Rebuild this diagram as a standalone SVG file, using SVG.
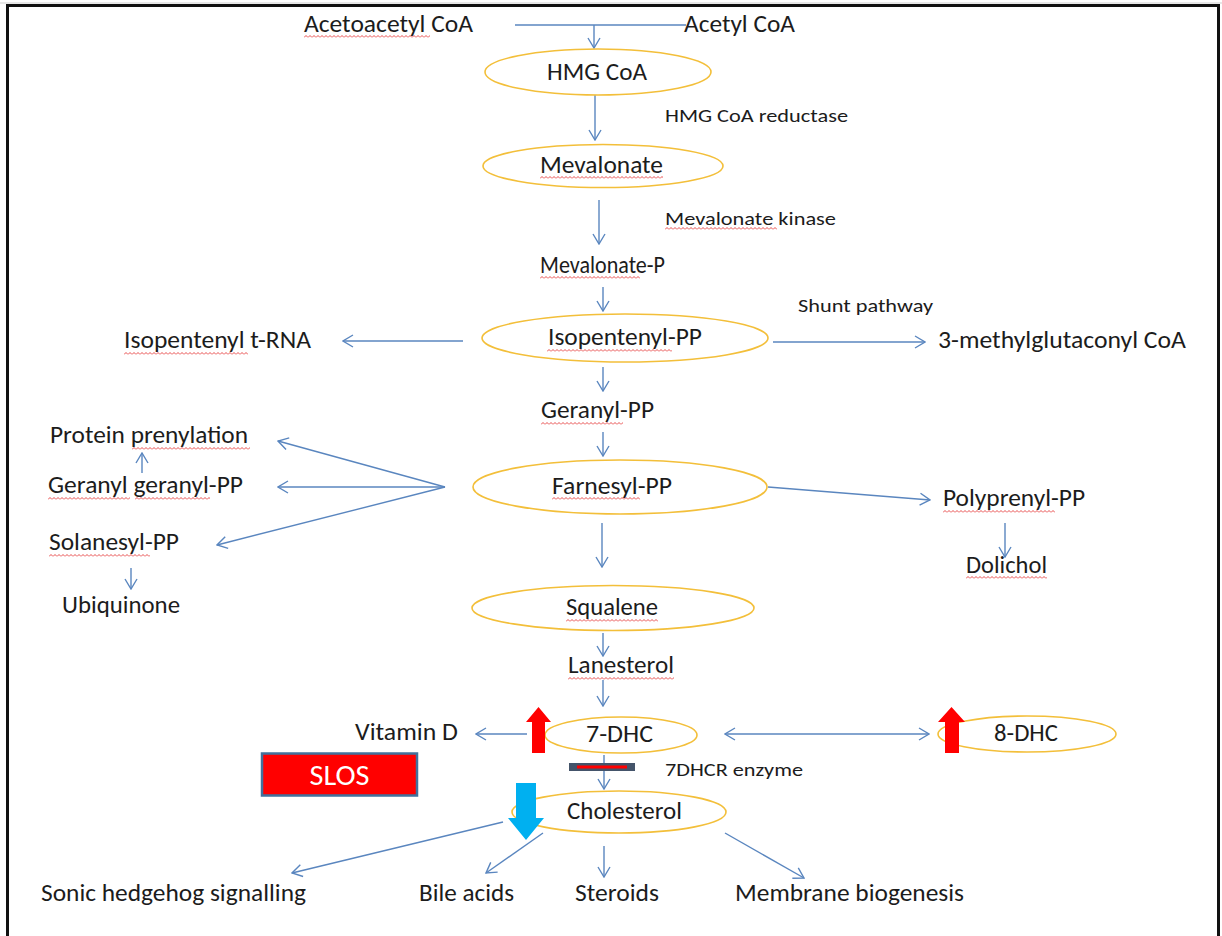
<svg xmlns="http://www.w3.org/2000/svg" width="1222" height="936" viewBox="0 0 1222 936">
<style>
text{font-family:Carlito,"Liberation Sans",Arial,sans-serif;fill:#1c1c1c}
.m{font-size:24px}
.s{font-size:18px}
.el{fill:none;stroke:#f3bf3a;stroke-width:1.6}
.c{fill:none;stroke:#5a86bf;stroke-width:1.4;marker-end:url(#ah)}
.d{fill:none;stroke:#5a86bf;stroke-width:1.4;marker-end:url(#ah);marker-start:url(#ah)}
.sq{fill:url(#wave)}
</style>
<defs>
<marker id="ah" markerUnits="userSpaceOnUse" viewBox="0 0 12 14" markerWidth="12" markerHeight="14" refX="11" refY="7" orient="auto-start-reverse">
<path d="M1,1 L11,7 L1,13" fill="none" stroke="#5a86bf" stroke-width="1.4"/>
</marker>
<pattern id="wave" patternUnits="userSpaceOnUse" width="4" height="3">
<path d="M0,2.5 L2,0.5 L4,2.5" fill="none" stroke="#e53a3a" stroke-width="0.9"/>
</pattern>
</defs>
<rect width="1222" height="936" fill="#ffffff"/>
<g id="frame">
<line x1="0" y1="3" x2="1222" y2="3" stroke="#cfcfcf" stroke-width="1"/>
<line x1="6" y1="5.5" x2="1220" y2="5.5" stroke="#111" stroke-width="3"/>
<line x1="7.5" y1="4" x2="7.5" y2="936" stroke="#111" stroke-width="3"/>
<line x1="1218.5" y1="4" x2="1218.5" y2="936" stroke="#111" stroke-width="3"/>
</g>
<g id="connectors">
<line x1="515" y1="25" x2="686" y2="25" stroke="#5a86bf" stroke-width="1.4"/>
<line class="c" x1="594" y1="25" x2="594" y2="48"/>
<line class="c" x1="595" y1="95" x2="595" y2="140"/>
<line class="c" x1="599" y1="200" x2="599" y2="244"/>
<line class="c" x1="603" y1="287" x2="603" y2="311"/>
<line class="c" x1="463" y1="341" x2="343" y2="341"/>
<line class="c" x1="773" y1="342" x2="925" y2="342"/>
<line class="c" x1="603" y1="367" x2="603" y2="391"/>
<line class="c" x1="603" y1="432" x2="603" y2="456"/>
<line class="c" x1="445" y1="487" x2="278" y2="441"/>
<line class="c" x1="445" y1="487" x2="278" y2="487"/>
<line class="c" x1="445" y1="487" x2="217" y2="545"/>
<line class="c" x1="142" y1="473" x2="142" y2="453"/>
<line class="c" x1="131" y1="568" x2="131" y2="589"/>
<line class="c" x1="768" y1="487" x2="930" y2="500"/>
<line class="c" x1="1005" y1="523" x2="1005" y2="557"/>
<line class="c" x1="602" y1="523" x2="602" y2="567"/>
<line class="c" x1="603" y1="633" x2="603" y2="656"/>
<line class="c" x1="603" y1="680" x2="603" y2="706"/>
<line class="c" x1="527" y1="734" x2="476" y2="734"/>
<line class="d" x1="725" y1="734" x2="929" y2="734"/>
<line class="c" x1="604" y1="755" x2="604" y2="789"/>
<line class="c" x1="503" y1="822" x2="292" y2="873"/>
<line class="c" x1="543" y1="833" x2="486" y2="873"/>
<line class="c" x1="604" y1="846" x2="604" y2="877"/>
<line class="c" x1="725" y1="833" x2="804" y2="878"/>
</g>
<g id="acetoacetyl">
<text class="m" x="304" y="32" textLength="169" lengthAdjust="spacingAndGlyphs">Acetoacetyl CoA</text>
<rect class="sq" x="0" y="0" width="126" height="3" transform="translate(304,35)"/>
</g>
<g id="acetyl">
<text class="m" x="684" y="32" textLength="111" lengthAdjust="spacingAndGlyphs">Acetyl CoA</text>
</g>
<g id="hmgcoa">
<ellipse class="el" cx="598" cy="72" rx="113" ry="23"/>
<text class="m" x="547" y="80" textLength="100" lengthAdjust="spacingAndGlyphs">HMG CoA</text>
</g>
<g id="hmgred">
<text class="s" x="665" y="122" textLength="183" lengthAdjust="spacingAndGlyphs">HMG  CoA reductase</text>
</g>
<g id="mevalonate">
<ellipse class="el" cx="603" cy="166" rx="120" ry="21.5"/>
<text class="m" x="540" y="173" textLength="123" lengthAdjust="spacingAndGlyphs">Mevalonate</text>
<rect class="sq" x="0" y="0" width="123" height="3" transform="translate(540,176)"/>
</g>
<g id="mevkinase">
<text class="s" x="665" y="225" textLength="171" lengthAdjust="spacingAndGlyphs">Mevalonate kinase</text>
<rect class="sq" x="0" y="0" width="112" height="3" transform="translate(665,227)"/>
</g>
<g id="mevp">
<text class="m" x="540" y="273" textLength="125" lengthAdjust="spacingAndGlyphs">Mevalonate-P</text>
<rect class="sq" x="0" y="0" width="100" height="3" transform="translate(540,276)"/>
</g>
<g id="shunt">
<text class="s" x="798" y="312" textLength="135" lengthAdjust="spacingAndGlyphs">Shunt pathway</text>
</g>
<g id="ipp">
<ellipse class="el" cx="625" cy="338" rx="143" ry="24"/>
<text class="m" x="548" y="345" textLength="154" lengthAdjust="spacingAndGlyphs">Isopentenyl-PP</text>
<rect class="sq" x="0" y="0" width="125" height="3" transform="translate(547,349)"/>
</g>
<g id="trna">
<text class="m" x="124" y="348" textLength="187" lengthAdjust="spacingAndGlyphs">Isopentenyl t-RNA</text>
<rect class="sq" x="0" y="0" width="124" height="3" transform="translate(124,352)"/>
</g>
<g id="methylglut">
<text class="m" x="938" y="348" textLength="248" lengthAdjust="spacingAndGlyphs">3-methylglutaconyl CoA</text>
</g>
<g id="geranylpp">
<text class="m" x="541" y="418" textLength="113" lengthAdjust="spacingAndGlyphs">Geranyl-PP</text>
<rect class="sq" x="0" y="0" width="82" height="3" transform="translate(541,422)"/>
</g>
<g id="farnesyl">
<ellipse class="el" cx="620" cy="487" rx="147" ry="27"/>
<text class="m" x="552" y="494" textLength="120" lengthAdjust="spacingAndGlyphs">Farnesyl-PP</text>
<rect class="sq" x="0" y="0" width="88" height="3" transform="translate(552,497)"/>
</g>
<g id="prenylation">
<text class="m" x="50" y="443" textLength="198" lengthAdjust="spacingAndGlyphs">Protein prenylation</text>
<rect class="sq" x="0" y="0" width="118" height="3" transform="translate(132,447)"/>
</g>
<g id="ggpp">
<text class="m" x="48" y="493" textLength="195" lengthAdjust="spacingAndGlyphs">Geranyl geranyl-PP</text>
<rect class="sq" x="0" y="0" width="82" height="3" transform="translate(48,497)"/>
<rect class="sq" x="0" y="0" width="75" height="3" transform="translate(135,497)"/>
</g>
<g id="solanesyl">
<text class="m" x="49" y="550" textLength="130" lengthAdjust="spacingAndGlyphs">Solanesyl-PP</text>
<rect class="sq" x="0" y="0" width="101" height="3" transform="translate(49,554)"/>
</g>
<g id="ubiquinone">
<text class="m" x="62" y="613" textLength="118" lengthAdjust="spacingAndGlyphs">Ubiquinone</text>
</g>
<g id="polyprenyl">
<text class="m" x="943" y="506" textLength="142" lengthAdjust="spacingAndGlyphs">Polyprenyl-PP</text>
<rect class="sq" x="0" y="0" width="112" height="3" transform="translate(943,510)"/>
</g>
<g id="dolichol">
<text class="m" x="966" y="573" textLength="81" lengthAdjust="spacingAndGlyphs">Dolichol</text>
<rect class="sq" x="0" y="0" width="81" height="3" transform="translate(966,576)"/>
</g>
<g id="squalene">
<ellipse class="el" cx="613" cy="608" rx="141" ry="22.5"/>
<text class="m" x="566" y="615" textLength="92" lengthAdjust="spacingAndGlyphs">Squalene</text>
<rect class="sq" x="0" y="0" width="92" height="3" transform="translate(566,619)"/>
</g>
<g id="lanesterol">
<text class="m" x="568" y="673" textLength="106" lengthAdjust="spacingAndGlyphs">Lanesterol</text>
<rect class="sq" x="0" y="0" width="106" height="3" transform="translate(568,677)"/>
</g>
<g id="vitamind">
<text class="m" x="355" y="740" textLength="103" lengthAdjust="spacingAndGlyphs">Vitamin D</text>
</g>
<g id="dhc7">
<ellipse class="el" cx="621" cy="735" rx="76" ry="18"/>
<text class="m" x="586" y="742" textLength="67" lengthAdjust="spacingAndGlyphs">7-DHC</text>
<polygon points="538.5,707 551,722 545,722 545,753 532,753 532,722 526,722" fill="#ff0000"/>
</g>
<g id="dhc8">
<ellipse class="el" cx="1027" cy="734" rx="89" ry="18"/>
<text class="m" x="994" y="741" textLength="64" lengthAdjust="spacingAndGlyphs">8-DHC</text>
<polygon points="951.5,707 965,722 959,722 959,753 945,753 945,722 938,722" fill="#ff0000"/>
</g>
<g id="inhibitor">
<rect x="569" y="763" width="66" height="8" fill="#44546a"/>
<line x1="577" y1="767" x2="627" y2="767" stroke="#ff0000" stroke-width="3"/>
</g>
<g id="enzyme">
<text class="s" x="665" y="776" textLength="138" lengthAdjust="spacingAndGlyphs">7DHCR enzyme</text>
</g>
<g id="slos">
<rect x="262" y="753.5" width="155" height="42" fill="#ff0000" stroke="#41719c" stroke-width="2.5"/>
<text x="339.5" y="785" text-anchor="middle" style="fill:#ffffff;font-size:28px" textLength="60" lengthAdjust="spacingAndGlyphs">SLOS</text>
</g>
<g id="cholesterol">
<ellipse class="el" cx="619" cy="812" rx="107" ry="21"/>
<text class="m" x="567" y="819" textLength="115" lengthAdjust="spacingAndGlyphs">Cholesterol</text>
<polygon points="516,783 536,783 536,818 544,818 526,840 508,818 516,818" fill="#00b0f0"/>
</g>
<g id="sonic">
<text class="m" x="41" y="901" textLength="265" lengthAdjust="spacingAndGlyphs">Sonic hedgehog  signalling</text>
</g>
<g id="bile">
<text class="m" x="419" y="901" textLength="95" lengthAdjust="spacingAndGlyphs">Bile acids</text>
</g>
<g id="steroids">
<text class="m" x="575" y="901" textLength="84" lengthAdjust="spacingAndGlyphs">Steroids</text>
</g>
<g id="membrane">
<text class="m" x="735" y="901" textLength="229" lengthAdjust="spacingAndGlyphs">Membrane biogenesis</text>
</g>
</svg>
